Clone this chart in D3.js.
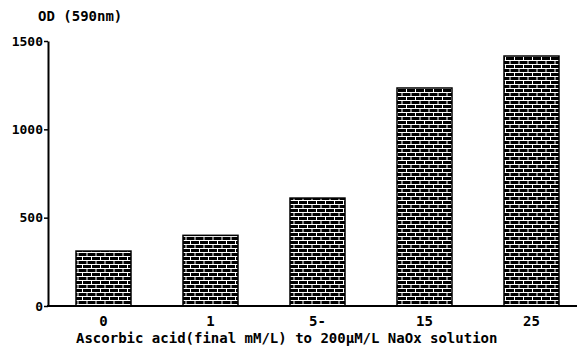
<!DOCTYPE html>
<html>
<head>
<meta charset="utf-8">
<script src="https://cdn.jsdelivr.net/npm/d3@7"></script>
<style>
  body { margin:0; background:#fff; }
  text { font-family:"DejaVu Sans Mono", monospace; fill:#000; }
</style>
</head>
<body>
<div id="chart"></div>
<script>
const categories = ["0", "1", "5-", "15", "25"];
const values = [311, 400, 611, 1234, 1415];
const yTicks = [0, 500, 1000, 1500];
const yTitle = "OD (590nm)";
const xTitle = "Ascorbic acid(final mM/L) to 200\u00b5M/L NaOx solution";

const W = 577, H = 349;
const x0 = 48, yBase = 306, yTop = 41;

const svg = d3.select("#chart").append("svg")
  .attr("width", W).attr("height", H);

// brick pattern
const pat = svg.append("defs").append("pattern")
  .attr("id", "brick")
  .attr("patternUnits", "userSpaceOnUse")
  .attr("width", 18).attr("height", 8)
pat.append("rect").attr("width", 18).attr("height", 8).attr("fill", "#000")
pat.append("path")
  .attr("d", "M0 0.5H18M0 4.5H18M1.5 0.5V4.5M10.5 0.5V4.5M6 4.5V8.5M15 4.5V8.5")
  .attr("stroke", "#fff").attr("stroke-width", 1).attr("fill", "none")

const x = d3.scaleBand().domain(categories).range([50, 585])
  .paddingInner(0.486).paddingOuter(0.243)
const y = d3.scaleLinear().domain([0, 1500]).range([yBase, yTop])

// bars
svg.selectAll("rect.bar")
  .data(values)
  .enter()
  .append("rect")
    .attr("class", "bar")
    .attr("x", (d, i) => x(categories[i]))
    .attr("y", d => y(d))
    .attr("width", x.bandwidth())
    .attr("height", d => yBase - y(d))
    .attr("fill", "url(#brick)")
    .attr("stroke", "#000")
    .attr("stroke-width", 1.5)

// y axis
const ya = svg.append("g")
  .attr("transform", "translate(" + x0 + ",0)")
  .call(d3.axisLeft(y).tickValues(yTicks).tickFormat(d3.format("d"))
    .tickSize(4).tickSizeOuter(0).tickPadding(1))
ya.select(".domain").attr("stroke-width", 2)
ya.selectAll(".tick line").attr("stroke-width", 1.5)
ya.selectAll("text").style("font-size", "13px").style("font-weight", "bold").attr("fill", "#000")

// x axis line
svg.append("line")
  .attr("x1", x0 - 1).attr("x2", W)
  .attr("y1", yBase).attr("y2", yBase)
  .attr("stroke", "#000").attr("stroke-width", 2)

// x tick labels
svg.selectAll("text.xl")
  .data(categories)
  .enter()
  .append("text")
    .attr("class", "xl")
    .attr("x", d => x(d) + x.bandwidth() / 2)
    .attr("y", 326)
    .attr("text-anchor", "middle")
    .style("font-size", "14px")
    .style("font-weight", "bold")
    .text(d => d)

svg.append("text")
  .attr("x", 76).attr("y", 343)
  .style("font-size", "14px")
  .style("font-weight", "bold")
  .text(xTitle)

svg.append("text")
  .attr("x", 38).attr("y", 21)
  .style("font-size", "14px")
  .style("font-weight", "bold")
  .text(yTitle)
</script>
</body>
</html>
